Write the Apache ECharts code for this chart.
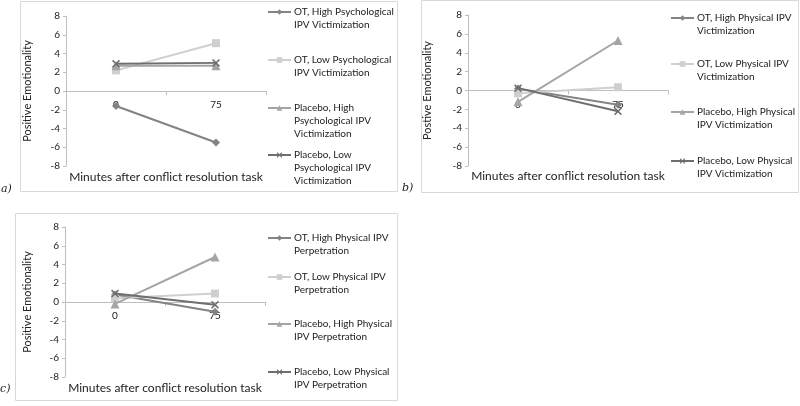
<!DOCTYPE html>
<html>
<head>
<meta charset="utf-8">
<script src="https://cdn.jsdelivr.net/npm/echarts@6/dist/echarts.min.js"></script>
<style>
html,body{margin:0;padding:0;background:#fff;}
#chart{width:800px;height:406px;}
</style>
</head>
<body>
<div id="chart"></div>
<script>
// ---------- data ----------
const categories = ['0', '75'];
const yTicks = [-8, 8, 2]; // min, max, interval

// Panel a) psychological IPV victimization
const aNames = [
  ['OT, High Psychological', 'IPV Victimization'],
  ['OT, Low Psychological', 'IPV Victimization'],
  ['Placebo, High', 'Psychological IPV', 'Victimization'],
  ['Placebo, Low', 'Psychological IPV', 'Victimization']
];
const aOTHigh = [-1.6, -5.5];
const aOTLow = [2.2, 5.1];
const aPlHigh = [2.7, 2.7];
const aPlLow = [2.9, 3.0];

// Panel b) physical IPV victimization
const bNames = [
  ['OT, High Physical IPV', 'Victimization'],
  ['OT, Low Physical IPV', 'Victimization'],
  ['Placebo, High Physical', 'IPV Victimization'],
  ['Placebo, Low Physical', 'IPV Victimization']
];
const bOTHigh = [0.2, -1.5];
const bOTLow = [-0.3, 0.35];
const bPlHigh = [-1.2, 5.3];
const bPlLow = [0.25, -2.2];

// Panel c) physical IPV perpetration
const cNames = [
  ['OT, High Physical IPV', 'Perpetration'],
  ['OT, Low Physical IPV', 'Perpetration'],
  ['Placebo, High Physical', 'IPV Perpetration'],
  ['Placebo, Low Physical', 'IPV Perpetration']
];
const cOTHigh = [0.8, -1.05];
const cOTLow = [0.4, 0.9];
const cPlHigh = [-0.2, 4.8];
const cPlLow = [0.9, -0.3];

const yTitles = ['Positive Emotionality', 'Postive Emotionality', 'Positive Emotionality'];
const xTitle = 'Minutes after conflict resolution task';
const panelLabels = ['a)', 'b)', 'c)'];

// ---------- styles ----------
const FONT = 'Lato, "Open Sans", sans-serif';
const XSYM = 'path://M0,1.4L1.4,0L5,3.6L8.6,0L10,1.4L6.4,5L10,8.6L8.6,10L5,6.4L1.4,10L0,8.6L3.6,5Z';
const styles = [
  {color: '#838383', symbol: 'diamond', size: 8},
  {color: '#cfcfcf', symbol: 'rect', size: 8},
  {color: '#a5a5a5', symbol: 'triangle', size: 9},
  {color: '#6e6e6e', symbol: XSYM, size: 8}
];

const panels = [
  {names: aNames, data: [aOTHigh, aOTLow, aPlHigh, aPlLow], grid: {left: 66, top: 16, width: 200, height: 150},
   legendLeft: 267, legendY: [12, 60, 108, 155], yGap: 33},
  {names: bNames, data: [bOTHigh, bOTLow, bPlHigh, bPlLow], grid: {left: 468, top: 15, width: 200, height: 151},
   legendLeft: 670, legendY: [18, 64, 112, 161], yGap: 35},
  {names: cNames, data: [cOTHigh, cOTLow, cPlHigh, cPlLow], grid: {left: 65, top: 227, width: 200, height: 150},
   legendLeft: 267, legendY: [238, 277, 324, 372], yGap: 32}
];

const LH = 13;
const option = {
  animation: false,
  backgroundColor: '#fff',
  textStyle: {fontFamily: FONT},
  grid: [], xAxis: [], yAxis: [], series: [], legend: [],
  graphic: []
};

panels.forEach((p, i) => {
  option.grid.push(Object.assign({containLabel: false, outerBoundsMode: 'none'}, p.grid));
  option.xAxis.push({
    type: 'category', gridIndex: i, data: categories, boundaryGap: true,
    position: 'bottom',
    // the category axis crosses the value axis at 0 (middle of the -8..8 range)
    offset: -p.grid.height / 2,
    axisLine: {onZero: false, lineStyle: {color: '#bfbfbf', width: 1}},
    axisTick: {show: true, length: 4, lineStyle: {color: '#bfbfbf'}},
    axisLabel: {color: '#222', fontSize: 10, margin: 9, fontFamily: FONT},
    splitLine: {show: false},
    name: xTitle, nameLocation: 'middle', nameGap: 80,
    nameTextStyle: {color: '#222', fontSize: 12, fontFamily: FONT}
  });
  option.yAxis.push({
    type: 'value', gridIndex: i, min: yTicks[0], max: yTicks[1], interval: yTicks[2],
    axisLine: {show: true, lineStyle: {color: '#bfbfbf'}},
    axisTick: {show: true, length: 3, lineStyle: {color: '#bfbfbf'}},
    axisLabel: {color: '#222', fontSize: 10, margin: 6, fontFamily: FONT},
    splitLine: {show: false},
    name: yTitles[i], nameLocation: 'middle', nameGap: p.yGap, nameRotate: 90,
    nameTextStyle: {color: '#222', fontSize: 11, fontFamily: FONT}
  });
  p.names.forEach((lines, k) => {
    const st = styles[k];
    const name = lines.join(' ');
    option.series.push({
      type: 'line', name: name, xAxisIndex: i, yAxisIndex: i, data: p.data[k],
      symbol: st.symbol, symbolSize: st.size,
      lineStyle: {color: st.color, width: 2},
      itemStyle: {color: st.color},
      z: 3 + k
    });
    const n = lines.length;
    const H = (2 * n - 1) * LH;
    option.legend.push({
      data: [name],
      left: p.legendLeft,
      top: p.legendY[k] - H / 2,
      orient: 'vertical',
      itemWidth: 23, itemHeight: 7, itemGap: 0,
      padding: 0,
      formatter: () => ' \n'.repeat(n - 1) + lines.join('\n'),
      textStyle: {fontSize: 10, lineHeight: LH, color: '#222', fontFamily: FONT, padding: [0, 0, 0, -2]}
    });
  });
});

// panel frames & labels
const frames = [
  {x: 20, y: 1, w: 377, h: 190},
  {x: 421, y: 0, w: 377, h: 192},
  {x: 15, y: 213, w: 382, h: 187}
];
frames.forEach(f => {
  option.graphic.push({type: 'rect', shape: {x: f.x + 0.5, y: f.y + 0.5, width: f.w, height: f.h}, silent: true, z: -1,
    style: {fill: null, stroke: '#d9d9d9', lineWidth: 1}});
});
const labPos = [[1, 191], [402, 190], [0, 391]];
panelLabels.forEach((t, i) => {
  option.graphic.push({type: 'text', left: labPos[i][0], top: labPos[i][1] - 7,
    style: {text: t, font: 'italic 11px "DejaVu Serif", serif', fill: '#222'}});
});

const chart = echarts.init(document.getElementById('chart'), null, {renderer: 'canvas'});
chart.setOption(option);
</script>
</body>
</html>
